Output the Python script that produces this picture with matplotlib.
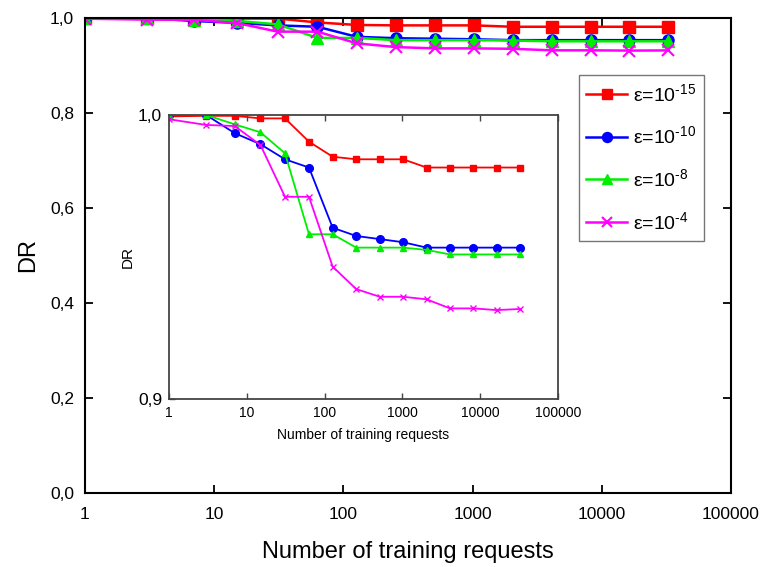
import matplotlib
matplotlib.use("Agg")
import matplotlib.pyplot as plt
from matplotlib.ticker import FixedLocator, FixedFormatter, NullLocator

plt.rcParams['font.family'] = ['Liberation Sans', 'DejaVu Sans']
plt.rcParams['mathtext.fontset'] = 'custom'
plt.rcParams['mathtext.rm'] = 'Liberation Sans'
plt.rcParams['mathtext.it'] = 'Liberation Sans:italic'
plt.rcParams['mathtext.bf'] = 'Liberation Sans:bold'

# Data
requests = [1, 3, 7, 15, 31, 63, 127, 255, 511, 1023, 2047, 4095, 8191, 16383, 32767]
dr_eps15 = [0.9995, 0.9997, 0.9997, 0.9988, 0.9988, 0.9906, 0.9853, 0.9844, 0.9844, 0.9844,
            0.9815, 0.9815, 0.9815, 0.9815, 0.9815]
dr_eps10 = [1.0, 1.0, 0.9936, 0.9897, 0.9844, 0.9815, 0.9603, 0.9574, 0.9563, 0.9552,
            0.9533, 0.9533, 0.9533, 0.9533, 0.9533]
dr_eps8 = [1.0, 1.0, 0.9967, 0.9939, 0.9865, 0.9580, 0.9580, 0.9533, 0.9533, 0.9533,
           0.9525, 0.9509, 0.9509, 0.9509, 0.9509]
dr_eps4 = [0.9985, 0.9965, 0.9961, 0.9894, 0.9712, 0.9712, 0.9466, 0.9387, 0.9360, 0.9360,
           0.9351, 0.9319, 0.9319, 0.9313, 0.9317]
labels = [r'ε=10$^{\text{-15}}$', r'ε=10$^{\text{-10}}$', r'ε=10$^{\text{-8}}$', r'ε=10$^{\text{-4}}$']
colors = ['#ff0000', '#0000ff', '#00ee00', '#ff00ff']
markers = ['s', 'o', '^', 'x']
series = [dr_eps15, dr_eps10, dr_eps8, dr_eps4]

xticks = [1, 10, 100, 1000, 10000, 100000]
xticklabels = ['1', '10', '100', '1000', '10000', '100000']
main_yticks = [0.0, 0.2, 0.4, 0.6, 0.8, 1.0]
main_yticklabels = ['0,0', '0,2', '0,4', '0,6', '0,8', '1,0']
inset_yticks = [0.9, 1.0]
inset_yticklabels = ['0,9', '1,0']

fig = plt.figure(figsize=(7.65, 5.67), dpi=100)
ax = fig.add_axes([0.1111, 0.1305, 0.8444, 0.8378])

for y, c, m, lab in zip(series, colors, markers, labels):
    mew = 1.5 if m == 'x' else 1.0
    ax.plot(requests, y, color=c, marker=m, markersize=8, linewidth=1.8,
            markeredgewidth=mew, label=lab)

ax.set_xscale('log')
ax.set_xlim(1, 100000)
ax.set_ylim(0.0, 1.0)
ax.xaxis.set_major_locator(FixedLocator(xticks))
ax.xaxis.set_major_formatter(FixedFormatter(xticklabels))
ax.xaxis.set_minor_locator(NullLocator())
ax.yaxis.set_major_locator(FixedLocator(main_yticks))
ax.yaxis.set_major_formatter(FixedFormatter(main_yticklabels))
ax.tick_params(direction='in', top=True, right=True, length=6, width=1.3,
               labelsize=12.5)
ax.tick_params(axis='x', pad=10)
ax.tick_params(axis='y', pad=8)
for s in ax.spines.values():
    s.set_linewidth(1.5)
ax.set_xlabel('Number of training requests', fontsize=17, labelpad=14)
ax.set_ylabel('DR', fontsize=17, labelpad=8)

leg = ax.legend(loc='upper right', bbox_to_anchor=(0.958, 0.88), fontsize=14,
                frameon=True, fancybox=False, edgecolor='#777777', framealpha=1,
                handlelength=2.1, handletextpad=0.3, labelspacing=1.07,
                borderpad=0.4, borderaxespad=0.0, markerscale=0.9)
leg.get_frame().set_linewidth(1.0)

# Inset
axi = fig.add_axes([0.2209, 0.2963, 0.5085, 0.5009])
inset_ms = [4.5, 5.5, 5.0, 5.0]
for y, c, m, ms in zip(series, colors, markers, inset_ms):
    axi.plot(requests, y, color=c, marker=m, markersize=ms, linewidth=1.3,
             markeredgewidth=1.0)
axi.set_xscale('log')
axi.set_xlim(1, 100000)
axi.set_ylim(0.9, 1.0)
axi.xaxis.set_major_locator(FixedLocator(xticks))
axi.xaxis.set_major_formatter(FixedFormatter(xticklabels))
axi.xaxis.set_minor_locator(NullLocator())
axi.yaxis.set_major_locator(FixedLocator(inset_yticks))
axi.yaxis.set_major_formatter(FixedFormatter(inset_yticklabels))
axi.tick_params(axis='x', direction='in', top=True, length=4, width=1.0,
                labelsize=10, pad=5, color='#444444')
axi.tick_params(axis='y', direction='in', right=False, length=4, width=1.0,
                labelsize=12.5, pad=5, color='#444444')
for s in axi.spines.values():
    s.set_linewidth(1.3)
    s.set_color('#444444')
axi.set_xlabel('Number of training requests', fontsize=10, labelpad=6)
axi.set_ylabel('DR', fontsize=11, labelpad=2)

fig.savefig('out.png', dpi=100)
